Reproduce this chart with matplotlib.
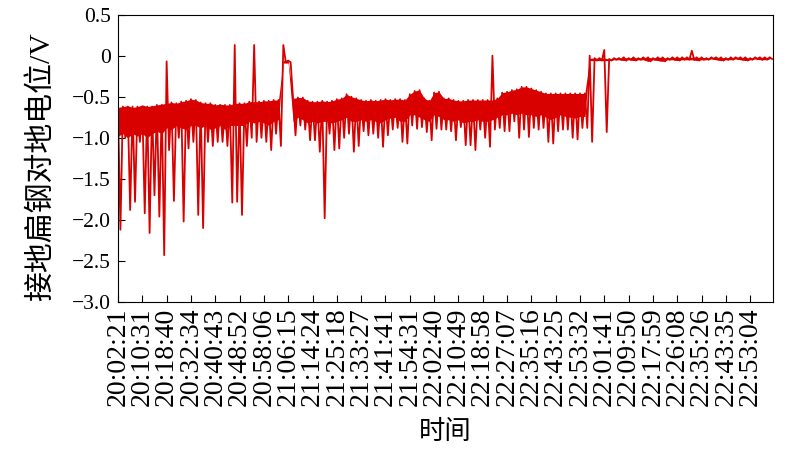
import numpy as np
import matplotlib
matplotlib.use('Agg')
import matplotlib.pyplot as plt

# 字体: 数字用衬线体, 中文回退到思源黑体
plt.rcParams['font.family'] = ['Liberation Serif', 'Noto Sans CJK SC']
plt.rcParams['axes.unicode_minus'] = True

# 每个采样段(5 段对应一个时间刻度)的读数, 单位 V
# peak/trough: 该段最大/最小值(含尖峰); top/bottom: 密集波动带的上下沿
peak = [-0.64, -0.62, -0.62, -0.62, -0.62, -0.62, -0.62, -0.62, -0.60, -0.60,
        -0.07, -0.57, -0.58, -0.56, -0.55, -0.53, -0.54, -0.57, -0.58, -0.58,
        -0.60, -0.60, -0.60, -0.60, 0.13, -0.58, -0.58, -0.56, 0.13, -0.56,
        -0.55, -0.55, -0.54, -0.54, 0.13, -0.06, -0.52, -0.51, -0.51, -0.55,
        -0.56, -0.56, -0.55, -0.56, -0.55, -0.53, -0.52, -0.47, -0.50, -0.52,
        -0.54, -0.55, -0.54, -0.55, -0.54, -0.53, -0.54, -0.53, -0.53, -0.54,
        -0.47, -0.43, -0.42, -0.52, -0.55, -0.45, -0.44, -0.52, -0.52, -0.54,
        -0.55, -0.55, -0.54, -0.54, -0.54, -0.54, -0.54, 0.00, -0.52, -0.45,
        -0.44, -0.42, -0.41, -0.38, -0.38, -0.40, -0.42, -0.44, -0.46, -0.46,
        -0.46, -0.46, -0.46, -0.46, -0.46, -0.46, -0.46, 0.00, -0.03, -0.03,
        0.07, -0.04, -0.03, -0.03, -0.02, -0.03, -0.02, -0.03, -0.02, -0.02,
        -0.03, -0.02, -0.02, -0.03, -0.02, -0.02, -0.02, -0.02, 0.06, -0.02,
        -0.02, -0.03, -0.02, -0.02, -0.02, -0.03, -0.02, -0.02, -0.02, -0.02,
        -0.03, -0.02, -0.02, -0.02, -0.02]
trough = [-2.12, -1.00, -1.88, -1.78, -1.05, -1.92, -2.16, -1.70, -1.96, -2.43,
          -1.15, -1.77, -1.00, -2.02, -1.13, -1.05, -1.94, -2.10, -1.05, -1.10,
          -1.05, -1.05, -1.10, -1.79, -1.78, -1.94, -1.10, -1.00, -1.05, -1.00,
          -1.05, -1.15, -0.95, -1.10, -0.08, -0.08, -0.97, -0.85, -0.90, -1.03,
          -1.03, -1.17, -1.98, -0.95, -1.15, -1.13, -1.00, -0.95, -1.17, -1.10,
          -0.92, -0.97, -0.95, -1.00, -1.11, -0.97, -0.90, -0.88, -1.05, -1.07,
          -0.85, -0.89, -0.87, -0.93, -1.03, -0.89, -0.90, -0.90, -0.92, -1.03,
          -0.87, -1.09, -1.09, -1.15, -0.90, -1.00, -1.11, -0.90, -0.88, -0.92,
          -0.92, -0.80, -1.00, -0.90, -0.99, -0.88, -0.90, -0.88, -1.05, -1.07,
          -0.92, -0.90, -0.90, -1.00, -1.02, -0.88, -0.88, -1.05, -0.06, -0.06,
          -0.93, -0.06, -0.05, -0.05, -0.06, -0.05, -0.06, -0.05, -0.05, -0.07,
          -0.05, -0.06, -0.07, -0.05, -0.05, -0.06, -0.05, -0.05, -0.05, -0.06,
          -0.05, -0.05, -0.04, -0.05, -0.06, -0.05, -0.05, -0.04, -0.05, -0.06,
          -0.05, -0.04, -0.05, -0.05, -0.04]
top = [-0.63, -0.62, -0.61, -0.63, -0.62, -0.60, -0.62, -0.61, -0.60, -0.59,
       -0.58, -0.57, -0.58, -0.56, -0.55, -0.53, -0.54, -0.57, -0.58, -0.58,
       -0.60, -0.59, -0.60, -0.60, -0.58, -0.58, -0.58, -0.56, -0.56, -0.56,
       -0.55, -0.55, -0.54, -0.54, -0.06, -0.06, -0.52, -0.51, -0.51, -0.55,
       -0.56, -0.56, -0.55, -0.56, -0.55, -0.53, -0.52, -0.47, -0.50, -0.52,
       -0.54, -0.55, -0.54, -0.55, -0.54, -0.53, -0.54, -0.53, -0.53, -0.54,
       -0.47, -0.43, -0.42, -0.52, -0.55, -0.45, -0.44, -0.52, -0.52, -0.54,
       -0.55, -0.55, -0.54, -0.54, -0.54, -0.54, -0.54, -0.54, -0.52, -0.45,
       -0.44, -0.42, -0.41, -0.38, -0.38, -0.40, -0.42, -0.44, -0.46, -0.46,
       -0.46, -0.46, -0.46, -0.46, -0.46, -0.46, -0.46, -0.03, -0.03, -0.03,
       -0.03, -0.04, -0.03, -0.03, -0.02, -0.03, -0.02, -0.03, -0.02, -0.02,
       -0.03, -0.02, -0.02, -0.03, -0.02, -0.02, -0.02, -0.02, -0.02, -0.02,
       -0.02, -0.03, -0.02, -0.02, -0.02, -0.03, -0.02, -0.02, -0.02, -0.02,
       -0.03, -0.02, -0.02, -0.02, -0.02]
bottom = [-0.98, -0.95, -1.00, -0.95, -0.98, -0.95, -1.00, -0.95, -0.92, -0.95,
          -0.88, -0.90, -0.85, -0.88, -0.90, -0.85, -0.85, -0.88, -0.85, -0.90,
          -0.88, -0.85, -0.90, -0.85, -0.85, -0.85, -0.85, -0.80, -0.82, -0.80,
          -0.82, -0.85, -0.80, -0.78, -0.09, -0.09, -0.80, -0.75, -0.78, -0.82,
          -0.80, -0.82, -0.80, -0.80, -0.82, -0.80, -0.78, -0.75, -0.80, -0.80,
          -0.78, -0.80, -0.78, -0.80, -0.82, -0.78, -0.76, -0.75, -0.80, -0.80,
          -0.72, -0.72, -0.75, -0.78, -0.80, -0.72, -0.74, -0.78, -0.78, -0.80,
          -0.78, -0.82, -0.80, -0.80, -0.78, -0.80, -0.80, -0.78, -0.75, -0.72,
          -0.72, -0.70, -0.72, -0.70, -0.72, -0.72, -0.74, -0.72, -0.75, -0.78,
          -0.75, -0.72, -0.74, -0.75, -0.76, -0.74, -0.74, -0.06, -0.06, -0.06,
          -0.06, -0.06, -0.05, -0.05, -0.06, -0.05, -0.06, -0.05, -0.05, -0.07,
          -0.05, -0.06, -0.07, -0.05, -0.05, -0.06, -0.05, -0.05, -0.05, -0.06,
          -0.05, -0.05, -0.04, -0.05, -0.06, -0.05, -0.05, -0.04, -0.05, -0.06,
          -0.05, -0.04, -0.05, -0.05, -0.04]

time_labels = ['20:02:21', '20:10:31', '20:18:40', '20:32:34', '20:40:43',
               '20:48:52', '20:58:06', '21:06:15', '21:14:24', '21:25:18',
               '21:33:27', '21:41:41', '21:54:31', '22:02:40', '22:10:49',
               '22:18:58', '22:27:07', '22:35:16', '22:43:25', '22:53:32',
               '22:01:41', '22:09:50', '22:17:59', '22:26:08', '22:35:26',
               '22:43:35', '22:53:04']
y_ticks = [-3.0, -2.5, -2.0, -1.5, -1.0, -0.5, 0, 0.5]
y_labels = ['\u22123.0', '\u22122.5', '\u22122.0', '\u22121.5', '\u22121.0',
            '\u22120.5', '0', '0.5']

n = len(peak)
x = np.arange(n)
# 每段先取最大值再取最小值, 连成折线
xs = np.repeat(x, 2) + np.tile([0.0, 0.5], n)
vs = np.column_stack([peak, trough]).ravel()
red = '#d90000'

fig = plt.figure(figsize=(8, 4.5), dpi=100)
ax = fig.add_axes([0.1475, 0.329, 0.8188, 0.6385])

ax.fill_between(x, bottom, top, color=red, lw=0)
ax.plot(xs, vs, color=red, lw=1.3)

ax.set_xlim(0, 134.7)
ax.set_ylim(-3.0, 0.5)
ax.set_xticks(np.arange(0, 5 * len(time_labels), 5))
ax.set_xticklabels(time_labels, rotation=90, fontsize=20)
ax.set_yticks(y_ticks)
ax.set_yticklabels(y_labels, fontsize=15.5)
ax.tick_params(axis='x', direction='in', length=5, pad=4)
ax.tick_params(axis='y', direction='in', length=5, pad=5)

ax.set_xlabel('时间', fontsize=19, labelpad=10)
ax.set_ylabel('接地扁钢对地电位/V', fontsize=21.5)
ax.yaxis.set_label_coords(-0.097, 0.47)

plt.savefig('out.png', dpi=100)
